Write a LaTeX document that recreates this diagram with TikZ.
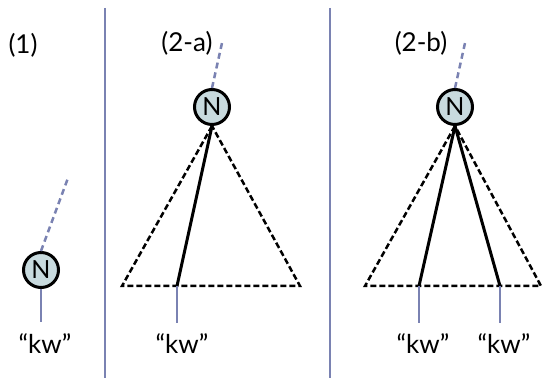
\documentclass[tikz,border=0pt]{standalone}
\usepackage{fontspec}
\setmainfont{Lato}
\definecolor{slate}{RGB}{122,130,178}
\definecolor{nodefill}{RGB}{200,218,222}
\tikzset{
  knode/.style={circle, draw=black, line width=3pt, fill=nodefill, minimum size=35pt, inner sep=0pt, font=\fontsize{25}{28}\selectfont},
  upedge/.style={slate, line width=2.5pt, dash pattern=on 6pt off 4pt},
  hitedge/.style={slate, line width=2pt},
  tri/.style={black, line width=2.5pt, dash pattern=on 6pt off 3pt},
  path/.style={black, line width=3pt},
  lbl/.style={font=\fontsize{26}{30}\selectfont, inner sep=0pt}
}
\begin{document}
\begin{tikzpicture}[x=1pt, y=1pt]
    \useasboundingbox (0,0) rectangle (543,379);

    % Trennlinien
    \coordinate (s1t) at (105,371); \coordinate (s1b) at (105,1);
    \coordinate (s2t) at (330,371); \coordinate (s2b) at (330,1);
    \draw[hitedge] (s1t) -- (s1b);
    \draw[hitedge] (s2t) -- (s2b);

    % (1)
    \node[lbl] (t1) at (23,334) {(1)};
    \node[knode] (n1) at (41,109) {N};
    \coordinate (u1) at (68,201);
    \draw[upedge] (n1.north) -- (u1);
    \node[lbl] (k1) at (45,35) {“kw”};
    \draw[hitedge] (n1.south) -- (41,57);

    % (2-a)
    \node[lbl] (t2) at (187,336) {(2-a)};
    \node[knode] (n2) at (212,272) {N};
    \coordinate (u2) at (222,336);
    \draw[upedge] (n2.north) -- (u2);
    \coordinate (l2) at (122,93);
    \coordinate (r2) at (300,93);
    \coordinate (f2) at (177,93);
    \draw[tri] (n2.south) -- (l2) -- (r2) -- cycle;
    \draw[path] (n2.south) -- (f2);
    \node[lbl] (k2) at (182,35) {“kw”};
    \draw[hitedge] (f2) -- (177,56);

    % (2-b)
    \node[lbl] (t3) at (421,336) {(2-b)};
    \node[knode] (n3) at (455,272) {N};
    \coordinate (u3) at (465,336);
    \draw[upedge] (n3.north) -- (u3);
    \coordinate (l3) at (365,93);
    \coordinate (r3) at (541,93);
    \coordinate (f3) at (419,93);
    \coordinate (g3) at (500,93);
    \draw[tri] (n3.south) -- (l3) -- (r3) -- cycle;
    \draw[path] (n3.south) -- (f3);
    \draw[path] (n3.south) -- (g3);
    \node[lbl] (k3) at (423,35) {“kw”};
    \node[lbl] (k4) at (504,35) {“kw”};
    \draw[hitedge] (f3) -- (419,56);
    \draw[hitedge] (g3) -- (500,56);
\end{tikzpicture}
\end{document}
